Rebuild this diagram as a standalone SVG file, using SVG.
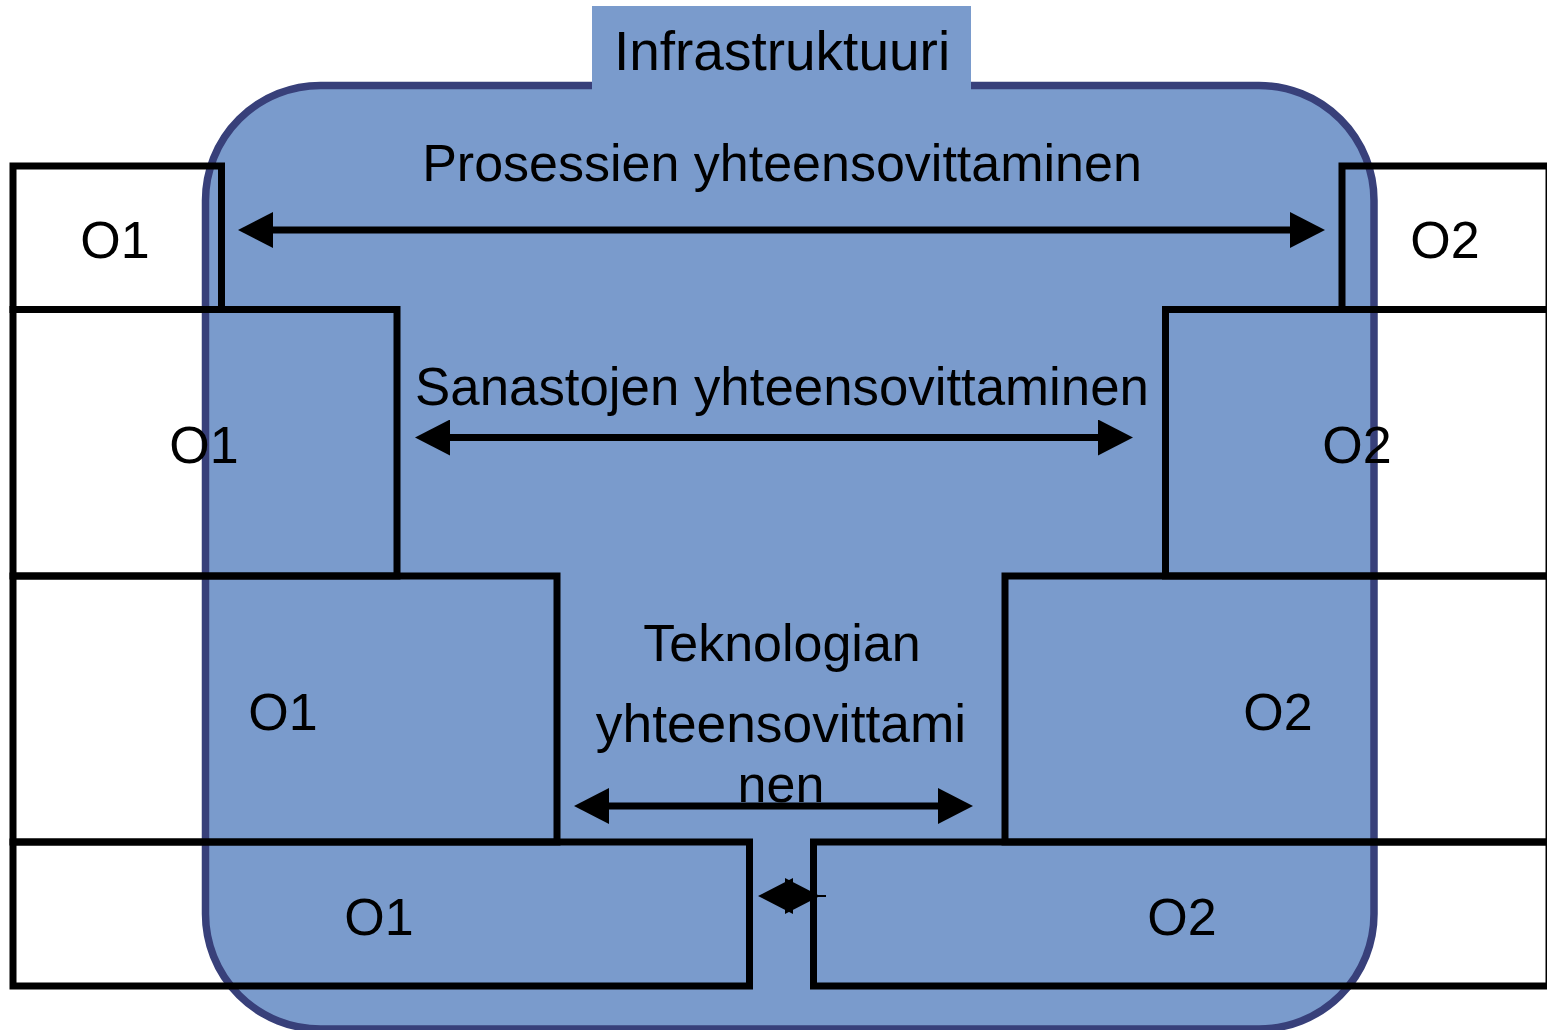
<svg xmlns="http://www.w3.org/2000/svg" width="1547" height="1030" viewBox="0 0 1547 1030">
  <style>
    .infra { fill: #7a9bcc; stroke: #38407a; stroke-width: 7.5; }
    .tab { fill: #7a9bcc; stroke: none; }
    .org { fill: none; stroke: #000; stroke-width: 7; }
    .lbl { font-family: "Liberation Sans", Arial, sans-serif; font-size: 52px; fill: #000; text-anchor: middle; }
    .title { font-size: 55px; }
    .wide { font-size: 52.8px; }
    .wider { font-size: 53.3px; }
    .link { stroke: #000; stroke-width: 7; fill: none; }
  </style>
  <defs>
    <marker id="head" viewBox="0 0 35 36" markerUnits="userSpaceOnUse" markerWidth="35" markerHeight="36" refX="25" refY="18" orient="auto-start-reverse">
      <path d="M0,0 L35,18 L0,36 Z" fill="#000"/>
    </marker>
  </defs>

  <rect id="white-bg" x="0" y="0" width="1547" height="1030" fill="#fff"/>

  <!-- infrastructure container with its title tab -->
  <g id="infrastruktuuri">
    <rect class="infra" x="205.5" y="85.5" width="1168.5" height="943.5" rx="115" ry="115"/>
    <rect class="tab" x="592" y="6" width="379" height="84"/>
    <text class="lbl title" x="782" y="70">Infrastruktuuri</text>
  </g>

  <!-- organisation O1 layers -->
  <g id="o1-prosessit">
    <rect class="org" x="13" y="166" width="208.5" height="143.5"/>
    <text class="lbl" x="115" y="258">O1</text>
  </g>
  <g id="o1-sanastot">
    <rect class="org" x="13" y="309.5" width="384" height="266.5"/>
    <text class="lbl" x="204" y="463">O1</text>
  </g>
  <g id="o1-teknologia">
    <rect class="org" x="13" y="576" width="544" height="266"/>
    <text class="lbl" x="283" y="730">O1</text>
  </g>
  <g id="o1-infra">
    <rect class="org" x="13" y="842" width="736.5" height="144"/>
    <text class="lbl" x="379" y="935">O1</text>
  </g>

  <!-- organisation O2 layers -->
  <g id="o2-prosessit">
    <rect class="org" x="1342" y="166" width="207" height="143.5"/>
    <text class="lbl" x="1445" y="258">O2</text>
  </g>
  <g id="o2-sanastot">
    <rect class="org" x="1165.5" y="309.5" width="383.5" height="266.5"/>
    <text class="lbl" x="1357" y="463">O2</text>
  </g>
  <g id="o2-teknologia">
    <rect class="org" x="1005" y="576" width="544" height="266"/>
    <text class="lbl" x="1278" y="730">O2</text>
  </g>
  <g id="o2-infra">
    <rect class="org" x="813.5" y="842" width="735.5" height="144"/>
    <text class="lbl" x="1182" y="935">O2</text>
  </g>

  <!-- level labels -->
  <g id="labels">
    <text class="lbl" x="782" y="181">Prosessien yhteensovittaminen</text>
    <text class="lbl wide" x="782" y="405">Sanastojen yhteensovittaminen</text>
    <text class="lbl" x="782" y="661">Teknologian</text>
    <text class="lbl wider" x="781" y="742">yhteensovittami</text>
    <text class="lbl" x="781" y="802">nen</text>
  </g>

  <!-- two-way links between the organisations -->
  <g id="connectors">
    <line class="link" x1="248" y1="230" x2="1315" y2="230" marker-start="url(#head)" marker-end="url(#head)"/>
    <line class="link" x1="425" y1="437.5" x2="1123" y2="437.5" marker-start="url(#head)" marker-end="url(#head)"/>
    <line class="link" x1="584" y1="806" x2="963" y2="806" marker-start="url(#head)" marker-end="url(#head)"/>
    <line class="link" x1="768" y1="896" x2="810" y2="896" marker-start="url(#head)" marker-end="url(#head)"/>
    <line x1="812" y1="896" x2="826" y2="896" stroke="#000" stroke-width="2"/>
  </g>
</svg>
